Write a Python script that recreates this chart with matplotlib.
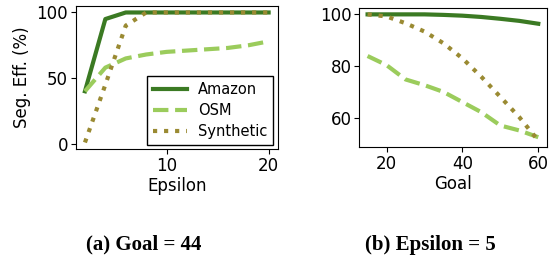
import matplotlib
matplotlib.use("Agg")
import matplotlib.pyplot as plt

# (a) Goal = 44, varying epsilon
eps = [2, 4, 6, 8, 10, 12, 14, 16, 18, 20]
amazon_eps = [40, 95, 100, 100, 100, 100, 100, 100, 100, 100]
osm_eps = [40, 58, 65, 68, 70, 71, 72, 73, 75, 78]
synth_eps = [1, 45, 90, 100, 100, 100, 100, 100, 100, 100]

# (b) Epsilon = 5, varying goal
goal = [15, 20, 25, 30, 35, 40, 45, 50, 55, 60]
amazon_goal = [100, 100, 100, 100, 99.8, 99.5, 99, 98.3, 97.5, 96.4]
osm_goal = [84, 80.5, 75, 72.8, 70.2, 66.3, 62.4, 57.3, 55.4, 52.8]
synth_goal = [100, 99.2, 96.6, 93.4, 88.9, 83.1, 76, 68.3, 60.5, 51.5]

names = ["Amazon", "OSM", "Synthetic"]
colors = ["#3b7a23", "#9bcc5c", "#9a8a32"]
styles = ["-", "--", ":"]
lw = 3

fig = plt.figure(figsize=(5.49, 2.6), dpi=100)
ax1 = fig.add_axes([0.138, 0.427, 0.368, 0.55])
ax2 = fig.add_axes([0.654, 0.435, 0.342, 0.534])

for ys, n, c, s in zip([amazon_eps, osm_eps, synth_eps], names, colors, styles):
    ax1.plot(eps, ys, color=c, linestyle=s, linewidth=lw, label=n)
for ys, n, c, s in zip([amazon_goal, osm_goal, synth_goal], names, colors, styles):
    ax2.plot(goal, ys, color=c, linestyle=s, linewidth=lw, label=n)

ax1.set_yticks([0, 50, 100])
ax1.set_xticks([10, 20])
ax1.set_xlabel("Epsilon", fontsize=12, labelpad=2)
ax1.set_ylabel("Seg. Eff. (%)", fontsize=12)
ax1.legend(loc="lower right", fontsize=10.5, fancybox=False, edgecolor="black",
           framealpha=1, handlelength=2.3, labelspacing=0.4, borderaxespad=0.3)

ax2.set_yticks([60, 80, 100])
ax2.set_xticks([20, 40, 60])
ax2.set_xlabel("Goal", fontsize=12, labelpad=2)

for ax in (ax1, ax2):
    ax.tick_params(labelsize=12, pad=2)

fig.text(0.262, 0.058, "(a) Goal = 44", fontsize=15, fontweight="bold",
         family="Liberation Serif", ha="center", va="center")
fig.text(0.784, 0.058, "(b) Epsilon = 5", fontsize=15, fontweight="bold",
         family="Liberation Serif", ha="center", va="center")

plt.savefig("out.png", dpi=100)
